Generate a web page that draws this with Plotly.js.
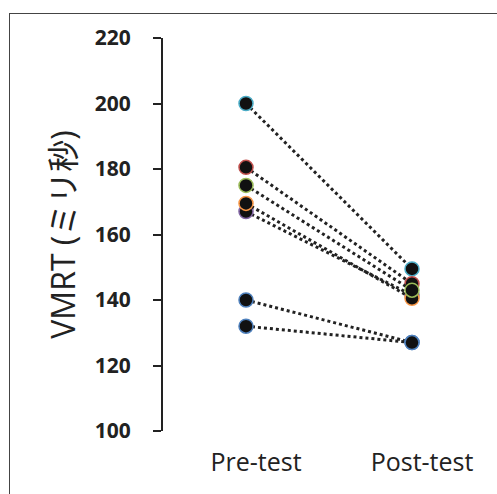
<!DOCTYPE html>
<html>
<head>
<meta charset="utf-8">
<script src="https://cdn.plot.ly/plotly-3.0.1.min.js"></script>
<style>
html,body{margin:0;padding:0;background:#fff;}
#chart{width:497px;height:494px;position:relative;}
#frame{position:absolute;left:9px;top:13px;width:600px;height:600px;border-top:1.5px solid #444;border-left:1.5px solid #444;pointer-events:none;z-index:10;}
</style>
</head>
<body>
<div id="chart"><div id="frame"></div></div>
<script>
const categories = ["Pre-test", "Post-test"];
const preTest  = [167, 169.5, 200, 180.5, 175, 140, 132];
const postTest = [141.5, 140.5, 149.5, 145, 143, 127, 127];
const edgeColors = ["#8064a2", "#f79646", "#4bacc6", "#c0504d", "#9bbb59", "#4f81bd", "#4f81bd"];
const yTicks = [100, 120, 140, 160, 180, 200, 220];

const traces = preTest.map((v, i) => ({
  type: "scatter",
  mode: "lines+markers",
  x: categories,
  y: [v, postTest[i]],
  line: {color: "#222", width: 3, dash: "dot"},
  marker: {size: 14, color: "#111", line: {color: edgeColors[i], width: 1.5}},
  showlegend: false,
  hoverinfo: "skip"
}));

const layout = {
  width: 497, height: 494,
  margin: {l: 163, r: 2, t: 38, b: 63},
  paper_bgcolor: "#fff", plot_bgcolor: "#fff",
  xaxis: {
    type: "category", range: [-0.5, 1.5],
    showline: false, showgrid: false, zeroline: false, ticks: "",
    tickfont: {family: "Open Sans", size: 25, color: "#222"},
    ticklabelstandoff: 14,
    ticklabelshift: 10
  },
  yaxis: {
    range: [100, 220], tickvals: yTicks, ticktext: yTicks.map(String),
    showline: true, linecolor: "#222", linewidth: 2,
    ticks: "outside", ticklen: 8, tickwidth: 2, tickcolor: "#222",
    showgrid: false, zeroline: false,
    tickfont: {family: "Open Sans", size: 21, color: "#222", weight: "bold"},
    ticklabelstandoff: 18,
    title: {text: "VMRT (ミリ秒)", font: {family: "Open Sans, Noto Sans CJK JP", size: 32, color: "#222"}, standoff: 10}
  }
};

Plotly.newPlot("chart", traces, layout, {displayModeBar: false, staticPlot: true});
</script>
</body>
</html>
